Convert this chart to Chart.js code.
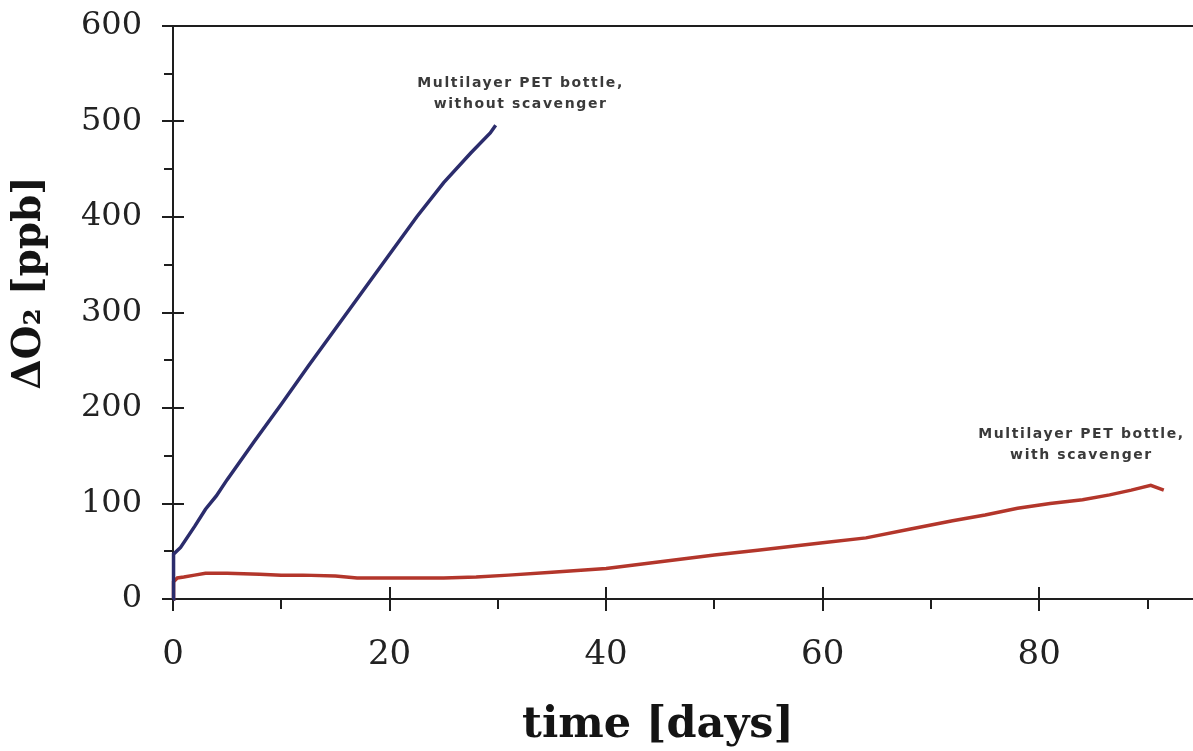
<!DOCTYPE html>
<html>
<head>
<meta charset="utf-8">
<script src="https://cdn.jsdelivr.net/npm/chart.js@4.4.1/dist/chart.umd.min.js"></script>
<style>
  html, body { margin: 0; padding: 0; background: #ffffff; }
  #wrap { width: 1193px; height: 751px; position: relative; }
</style>
</head>
<body>
<div id="wrap"><canvas id="c" width="1193" height="751"></canvas></div>
<script>
// ---- data ----
const blueDays = [0, 0.05, 0.7, 2, 3, 4, 5, 7.5, 10, 12.5, 15, 17.5, 20, 22.5, 25, 27.5, 29.3, 29.8];
const blueO2   = [0, 47, 54, 76, 94, 108, 125, 165, 204, 244, 283, 322, 361, 400, 436, 467, 488, 496];

const redDays = [0, 0.05, 0.4, 1, 2, 3, 5, 8, 10, 12, 15, 17, 20, 25, 28, 31, 35, 40, 45, 50, 54, 60, 64, 68, 72, 75, 78, 81, 84, 86.5, 88.5, 90.3, 91.5];
const redO2   = [0, 18, 22, 23, 25, 27, 27, 26, 25, 25, 24, 22, 22, 22, 23, 25, 28, 32, 39, 46, 51, 59, 64, 73, 82, 88, 95, 100, 104, 109, 114, 119, 114];

const xTickValues = [0, 20, 40, 60, 80];
const xMinorValues = [10, 30, 50, 70, 90];
const yTickValues = [0, 100, 200, 300, 400, 500, 600];
const yMinorValues = [50, 150, 250, 350, 450, 550];

const seriesNames = ['Multilayer PET bottle, without scavenger', 'Multilayer PET bottle, with scavenger'];
const annotationLines = [
  ['Multilayer PET bottle,', 'without scavenger'],
  ['Multilayer PET bottle,', 'with scavenger']
];
const xTitle = 'time [days]';
const yTitle = 'ΔO₂ [ppb]';

// annotation anchors (data units) – layout, not data
const annotationAnchors = [{ x: 32.1, y: 540 }, { x: 83.9, y: 172 }];

const toPoints = (xs, ys) => xs.map((x, i) => ({ x: x, y: ys[i] }));

const AXIS_COLOR = '#1e1e1e';

const framePlugin = {
  id: 'frame',
  beforeDatasetsDraw(chart) {
    const ctx = chart.ctx;
    const ca = chart.chartArea;
    const xs = chart.scales.x, ys = chart.scales.y;
    ctx.save();
    ctx.strokeStyle = AXIS_COLOR;
    ctx.lineWidth = 2;
    // top border
    ctx.beginPath();
    ctx.moveTo(ca.left - 11, ca.top);
    ctx.lineTo(ca.right, ca.top);
    ctx.stroke();
    // y ticks
    yTickValues.forEach(v => {
      const py = Math.round(ys.getPixelForValue(v));
      ctx.beginPath(); ctx.moveTo(ca.left - 11, py); ctx.lineTo(ca.left + 11, py); ctx.stroke();
    });
    yMinorValues.forEach(v => {
      const py = Math.round(ys.getPixelForValue(v));
      ctx.beginPath(); ctx.moveTo(ca.left - 9, py); ctx.lineTo(ca.left, py); ctx.stroke();
    });
    // x ticks
    xTickValues.forEach(v => {
      const px = Math.round(xs.getPixelForValue(v));
      ctx.beginPath(); ctx.moveTo(px, ca.bottom - 12); ctx.lineTo(px, ca.bottom + 12); ctx.stroke();
    });
    xMinorValues.forEach(v => {
      const px = Math.round(xs.getPixelForValue(v));
      ctx.beginPath(); ctx.moveTo(px, ca.bottom); ctx.lineTo(px, ca.bottom + 10); ctx.stroke();
    });
    ctx.restore();
  },
  afterDraw(chart) {
    const ctx = chart.ctx;
    const ca = chart.chartArea;
    const xs = chart.scales.x, ys = chart.scales.y;
    ctx.save();
    ctx.fillStyle = '#141414';
    // x title
    ctx.font = 'bold 43px "DejaVu Serif"';
    ctx.textAlign = 'center';
    ctx.textBaseline = 'middle';
    ctx.fillText(xTitle, ca.left + 485, ca.bottom + 127);
    // y title
    ctx.save();
    ctx.translate(30, ca.top + 257);
    ctx.rotate(-Math.PI / 2);
    ctx.font = 'bold 39px "DejaVu Serif"';
    ctx.fillText(yTitle, 0, 0);
    ctx.restore();
    // annotations
    ctx.font = 'bold 14px "DejaVu Sans"';
    ctx.fillStyle = '#3a3a3a';
    try { ctx.letterSpacing = '1.6px'; } catch (e) {}
    annotationLines.forEach((lines, i) => {
      const a = annotationAnchors[i];
      const px = xs.getPixelForValue(a.x);
      const py = ys.getPixelForValue(a.y);
      lines.forEach((t, j) => ctx.fillText(t, px, py + j * 21));
    });
    ctx.restore();
  }
};

new Chart(document.getElementById('c'), {
  type: 'scatter',
  data: {
    datasets: [
      {
        label: seriesNames[0],
        data: toPoints(blueDays, blueO2),
        showLine: true,
        borderColor: '#2b2c6c',
        borderWidth: 3.5,
        pointRadius: 0,
        tension: 0,
        clip: false
      },
      {
        label: seriesNames[1],
        data: toPoints(redDays, redO2),
        showLine: true,
        borderColor: '#b3362b',
        borderWidth: 3.5,
        pointRadius: 0,
        tension: 0,
        clip: false
      }
    ]
  },
  options: {
    responsive: false,
    animation: false,
    devicePixelRatio: 1,
    layout: { padding: { top: 26, left: 0, right: 0, bottom: 0 } },
    plugins: {
      legend: { display: false },
      tooltip: { enabled: false },
      title: { display: false }
    },
    scales: {
      x: {
        type: 'linear',
        min: 0,
        max: 94.2,
        afterFit: s => { s.height = 152; s.paddingLeft = 0; s.paddingRight = 0; },
        afterBuildTicks: s => { s.ticks = xTickValues.map(v => ({ value: v })); },
        grid: { display: false, drawTicks: false },
        border: { display: true, color: AXIS_COLOR, width: 2 },
        ticks: {
          padding: 36,
          maxRotation: 0,
          autoSkip: false,
          color: '#222222',
          font: { family: 'DejaVu Serif', size: 34 }
        },
        title: { display: false }
      },
      y: {
        type: 'linear',
        min: 0,
        max: 600,
        afterFit: s => { s.width = 173; s.paddingTop = 0; s.paddingBottom = 0; },
        afterBuildTicks: s => { s.ticks = yTickValues.map(v => ({ value: v })); },
        grid: { display: false, drawTicks: false },
        border: { display: true, color: AXIS_COLOR, width: 2 },
        ticks: {
          padding: 31,
          color: '#222222',
          font: { family: 'DejaVu Serif', size: 32 }
        },
        title: { display: false }
      }
    }
  },
  plugins: [framePlugin]
});
</script>
</body>
</html>
